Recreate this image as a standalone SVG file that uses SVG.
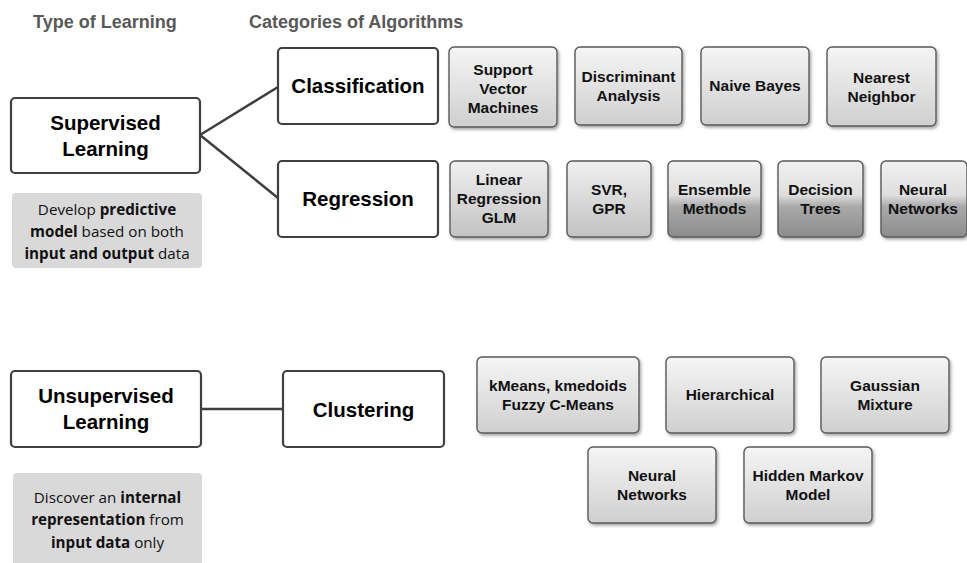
<svg xmlns="http://www.w3.org/2000/svg" width="967" height="563" viewBox="0 0 967 563">
  <defs>
    <linearGradient id="gLight" x1="0" y1="0" x2="0" y2="1">
      <stop offset="0" stop-color="#f5f5f5"/>
      <stop offset="1" stop-color="#cfcfcf"/>
    </linearGradient>
    <linearGradient id="gMid" x1="0" y1="0" x2="0" y2="1">
      <stop offset="0" stop-color="#f0f0f0"/>
      <stop offset="1" stop-color="#c2c2c2"/>
    </linearGradient>
    <linearGradient id="gDark" x1="0" y1="0" x2="0" y2="1">
      <stop offset="0" stop-color="#f2f2f2"/>
      <stop offset="0.45" stop-color="#dedede"/>
      <stop offset="0.6" stop-color="#a9a9a9"/>
      <stop offset="1" stop-color="#8c8c8c"/>
    </linearGradient>
    <filter id="shadow" x="-10%" y="-10%" width="125%" height="130%">
      <feDropShadow dx="1.5" dy="2" stdDeviation="1.5" flood-color="#000" flood-opacity="0.35"/>
    </filter>
  </defs>
  <style>
    .hdr { font-family: "Liberation Sans", Arial, sans-serif; font-weight: bold; font-size: 18px; fill: #595959; }
    .main { fill: #ffffff; stroke: #3f3f3f; stroke-width: 2.2; }
    .mainText { font-family: "Liberation Sans", Arial, sans-serif; font-weight: bold; font-size: 20.5px; fill: #000; text-anchor: middle; }
    .algo { stroke: #5a5a5a; stroke-width: 1.4; filter: url(#shadow); }
    .algoText { font-family: "Liberation Sans", Arial, sans-serif; font-weight: bold; font-size: 15.5px; fill: #111; text-anchor: middle; }
    .desc { fill: #d9d9d9; }
    .descText { font-family: "Open Sans", "Noto Sans", sans-serif; font-size: 15.2px; fill: #111; text-anchor: middle; }
    .descText tspan.b { font-weight: bold; }
    .conn { stroke: #3f3f3f; stroke-width: 2.5; fill: none; }
  </style>

  <rect width="967" height="563" fill="#ffffff"/>

  <!-- column headings -->
  <text class="hdr" x="33" y="28">Type of Learning</text>
  <text class="hdr" x="249" y="28">Categories of Algorithms</text>

  <!-- connectors -->
  <g id="connectors">
    <path class="conn" d="M200,135 L278,87"/>
    <path class="conn" d="M200,135 L278,198"/>
    <path class="conn" d="M201,409 L283,409"/>
  </g>

  <!-- learning types -->
  <g id="supervised">
    <rect class="main" x="11" y="98" width="189" height="75" rx="4"/>
    <text class="mainText" x="105.5" y="130">Supervised</text>
    <text class="mainText" x="105.5" y="156">Learning</text>
  </g>
  <g id="supervised-desc">
    <rect class="desc" x="12" y="193" width="190" height="75" rx="4"/>
    <text class="descText" x="107" y="215">Develop <tspan class="b">predictive</tspan></text>
    <text class="descText" x="107" y="237"><tspan class="b">model</tspan> based on both</text>
    <text class="descText" x="107" y="259"><tspan class="b">input and output</tspan> data</text>
  </g>
  <g id="unsupervised">
    <rect class="main" x="11" y="371" width="190" height="76" rx="4"/>
    <text class="mainText" x="106" y="403">Unsupervised</text>
    <text class="mainText" x="106" y="429">Learning</text>
  </g>
  <g id="unsupervised-desc">
    <rect class="desc" x="13" y="473" width="189" height="100" rx="4"/>
    <text class="descText" x="107.5" y="503">Discover an <tspan class="b">internal</tspan></text>
    <text class="descText" x="107.5" y="525"><tspan class="b">representation</tspan> from</text>
    <text class="descText" x="107.5" y="548"><tspan class="b">input data</tspan> only</text>
  </g>

  <!-- algorithm categories -->
  <g id="classification">
    <rect class="main" x="278" y="48" width="160" height="76" rx="4"/>
    <text class="mainText" x="358" y="93">Classification</text>
  </g>
  <g id="regression">
    <rect class="main" x="278" y="161" width="160" height="76" rx="4"/>
    <text class="mainText" x="358" y="206">Regression</text>
  </g>
  <g id="clustering">
    <rect class="main" x="283" y="371" width="161" height="76" rx="4"/>
    <text class="mainText" x="363.5" y="417">Clustering</text>
  </g>

  <!-- classification algorithms -->
  <g id="svm">
    <rect class="algo" x="449" y="47" width="108" height="80" rx="5" fill="url(#gLight)"/>
    <text class="algoText" x="503" y="75">Support</text>
    <text class="algoText" x="503" y="94">Vector</text>
    <text class="algoText" x="503" y="113">Machines</text>
  </g>
  <g id="discriminant">
    <rect class="algo" x="575" y="47" width="107" height="78" rx="5" fill="url(#gLight)"/>
    <text class="algoText" x="628.5" y="82">Discriminant</text>
    <text class="algoText" x="628.5" y="101">Analysis</text>
  </g>
  <g id="naive-bayes">
    <rect class="algo" x="701" y="47" width="108" height="78" rx="5" fill="url(#gLight)"/>
    <text class="algoText" x="755" y="91">Naive Bayes</text>
  </g>
  <g id="nearest-neighbor">
    <rect class="algo" x="827" y="47" width="109" height="79" rx="5" fill="url(#gLight)"/>
    <text class="algoText" x="881.5" y="83">Nearest</text>
    <text class="algoText" x="881.5" y="102">Neighbor</text>
  </g>

  <!-- regression algorithms -->
  <g id="linear-regression">
    <rect class="algo" x="450" y="161" width="98" height="76" rx="5" fill="url(#gMid)"/>
    <text class="algoText" x="499" y="185">Linear</text>
    <text class="algoText" x="499" y="204">Regression</text>
    <text class="algoText" x="499" y="223">GLM</text>
  </g>
  <g id="svr-gpr">
    <rect class="algo" x="567" y="161" width="84" height="76" rx="5" fill="url(#gMid)"/>
    <text class="algoText" x="609" y="195">SVR,</text>
    <text class="algoText" x="609" y="214">GPR</text>
  </g>
  <g id="ensemble">
    <rect class="algo" x="668" y="161" width="93" height="76" rx="5" fill="url(#gDark)"/>
    <text class="algoText" x="714.5" y="195">Ensemble</text>
    <text class="algoText" x="714.5" y="214">Methods</text>
  </g>
  <g id="decision-trees">
    <rect class="algo" x="778" y="161" width="85" height="76" rx="5" fill="url(#gDark)"/>
    <text class="algoText" x="820.5" y="195">Decision</text>
    <text class="algoText" x="820.5" y="214">Trees</text>
  </g>
  <g id="neural-networks-reg">
    <rect class="algo" x="881" y="161" width="86" height="76" rx="5" fill="url(#gDark)"/>
    <text class="algoText" x="923" y="195">Neural</text>
    <text class="algoText" x="923" y="214">Networks</text>
  </g>

  <!-- clustering algorithms -->
  <g id="kmeans">
    <rect class="algo" x="477" y="357" width="162" height="76" rx="5" fill="url(#gLight)"/>
    <text class="algoText" x="558" y="391">kMeans, kmedoids</text>
    <text class="algoText" x="558" y="410">Fuzzy C-Means</text>
  </g>
  <g id="hierarchical">
    <rect class="algo" x="666" y="357" width="128" height="76" rx="5" fill="url(#gLight)"/>
    <text class="algoText" x="730" y="400">Hierarchical</text>
  </g>
  <g id="gaussian-mixture">
    <rect class="algo" x="821" y="357" width="128" height="76" rx="5" fill="url(#gLight)"/>
    <text class="algoText" x="885" y="391">Gaussian</text>
    <text class="algoText" x="885" y="410">Mixture</text>
  </g>
  <g id="neural-networks-clu">
    <rect class="algo" x="588" y="447" width="128" height="76" rx="5" fill="url(#gLight)"/>
    <text class="algoText" x="652" y="481">Neural</text>
    <text class="algoText" x="652" y="500">Networks</text>
  </g>
  <g id="hidden-markov">
    <rect class="algo" x="744" y="447" width="128" height="76" rx="5" fill="url(#gLight)"/>
    <text class="algoText" x="808" y="481">Hidden Markov</text>
    <text class="algoText" x="808" y="500">Model</text>
  </g>
</svg>
